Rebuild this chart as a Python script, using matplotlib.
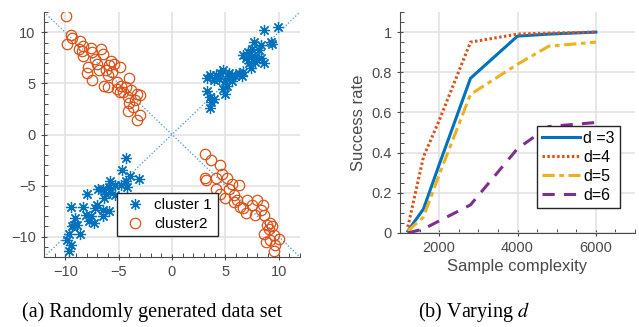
import numpy as np
import matplotlib
matplotlib.use("Agg")
import matplotlib.pyplot as plt
from matplotlib.ticker import MultipleLocator

plt.rcParams['font.family'] = ['Liberation Sans', 'DejaVu Sans']
plt.rcParams['mathtext.fontset'] = 'stix'

# ---- data (a): scatter clusters ----
c1_x = [9.9, 8.6, 9.3, 9.4, 7.7, 8.3, 8.2, 7.5, 7.1, 6.7, 6.9, 7.4, 7.8, 8.3, 8.6,
        7.8, 7.2, 7.4, 6.7, 6.3, 5.6, 5.3, 4.8, 4.5, 4.1, 3.6, 3.3, 3.9, 4.4, 5.0,
        5.6, 5.9, 5.2, 4.8, 5.0, 3.3, 3.6, 3.9, 3.7, 3.6, 5.3, 6.6,
        -4.3, -4.7, -3.9, -3.1, -4.3, -4.8, -4.2, -5.3, -5.9, -5.8, -6.9, -6.5, -6.2,
        -6.4, -8.0, -7.0, -8.3, -9.5, -7.2, -6.5, -5.9, -6.5, -8.1, -7.8, -7.3, -9.1,
        -8.9, -9.4, -8.6, -9.7, -9.8, -9.5, -9.7, -9.2, -7.6, -5.3, -5.8]
c1_y = [10.5, 10.2, 9.1, 8.9, 9.1, 8.8, 8.3, 8.4, 8.1, 7.8, 7.5, 7.6, 7.6, 7.5, 7.0,
        7.1, 7.0, 6.5, 6.1, 6.0, 5.8, 5.5, 6.3, 6.0, 5.8, 5.8, 5.5, 5.3, 5.4, 5.2,
        5.2, 5.7, 4.8, 4.5, 4.0, 4.3, 3.7, 3.5, 3.2, 2.6, 6.0, 5.7,
        -2.3, -3.5, -4.1, -4.4, -4.6, -4.9, -5.1, -4.9, -5.1, -4.6, -5.3, -5.3, -5.8,
        -6.2, -5.8, -6.9, -7.1, -7.1, -7.2, -7.4, -7.5, -8.0, -7.9, -8.5, -8.7, -8.2,
        -8.9, -9.0, -9.7, -9.7, -10.3, -10.8, -11.4, -8.9, -8.0, -5.9, -5.6]

c2_x = [-9.9, -9.5, -9.8, -8.6, -9.4, -8.4, -8.3, -7.6, -6.7, -6.5, -7.2, -7.9, -8.0,
        -7.5, -6.8, -6.2, -5.9, -5.4, -5.6, -6.0, -4.9, -5.7, -6.4, -6.0, -5.2, -4.9,
        -4.0, -4.3, -3.8, -3.3, -3.0, -4.1, -3.5, -4.0, -3.7, -4.1, -3.0, -3.3, -4.8,
        -5.2, -7.0, -7.5, -8.7, -8.3, -4.6,
        3.1, 3.7, 4.5, 3.1, 4.1, 4.7, 5.2, 5.6, 6.3, 4.1, 4.5, 5.3, 5.8, 5.0, 5.8,
        7.0, 8.0, 7.5, 6.7, 6.9, 8.3, 7.8, 8.6, 8.9, 9.4, 9.1, 8.6, 9.6, 9.2, 8.8,
        9.7, 9.6, 9.2, 8.5, 6.4, 6.1, 3.2, 10.0]
c2_y = [11.6, 9.7, 8.9, 9.2, 9.5, 8.2, 7.7, 8.5, 8.4, 7.9, 7.4, 6.6, 6.0,
        5.3, 6.3, 6.3, 6.8, 6.9, 6.1, 5.8, 6.6, 7.2, 4.8, 4.7, 4.5, 4.2,
        5.5, 4.7, 4.4, 4.0, 3.9, 3.7, 3.4, 3.1, 2.7, 2.3, 1.9, 1.4, 4.8,
        5.1, 6.9, 8.1, 8.4, 8.7, 4.2,
        -1.9, -2.5, -3.0, -4.3, -4.3, -3.9, -4.3, -4.8, -4.9, -5.3, -5.8, -5.3, -5.9,
        -6.2, -6.6, -6.4, -6.4, -6.9, -7.2, -7.7, -7.4, -7.9, -7.9, -8.9, -9.0, -9.3,
        -9.7, -9.8, -10.3, -10.5, -10.8, -11.4, -8.7, -6.9, -7.1, -6.4, -4.5, -10.2]

# ---- data (b): success rate vs sample complexity ----
samples = [1200, 1600, 2000, 2800, 4000, 4800, 6000]
rate_d3 = [0.01, 0.12, 0.34, 0.77, 0.98, 0.99, 1.00]
rate_d4 = [0.03, 0.38, 0.56, 0.95, 0.99, 0.995, 1.00]
rate_d5 = [0.01, 0.08, 0.29, 0.69, 0.84, 0.93, 0.95]
rate_d6 = [0.00, 0.02, 0.06, 0.14, 0.42, 0.53, 0.55]

tick_col = '#4a4a4a'
grid_col = '#e3e3e3'
blue, orange, yellow, purple = '#0072BD', '#D95319', '#EDB120', '#7E2F8E'

fig = plt.figure(figsize=(6.39, 3.27), dpi=100)


def style_axes(ax):
    for s in ['top', 'right']:
        ax.spines[s].set_visible(False)
    for s in ['left', 'bottom']:
        ax.spines[s].set_color(tick_col)
        ax.spines[s].set_linewidth(0.8)
    ax.tick_params(which='major', direction='inout', length=5, width=0.8,
                   colors=tick_col, labelsize=10.5, labelcolor=tick_col)
    ax.tick_params(which='minor', direction='in', length=3, width=0.7, colors=tick_col)
    ax.grid(True, which='major', color=grid_col, linewidth=1.2)
    ax.set_axisbelow(True)


# ---------------- (a) ----------------
ax1 = fig.add_axes([44 / 639, 1 - 257 / 327, 256 / 639, 245 / 327])
style_axes(ax1)
ax1.plot([-12, 12], [-12, 12], ls=':', color='#3f93d1', lw=0.9)
ax1.plot([-12, 12], [12, -12], ls=':', color='#3f93d1', lw=0.9)
ax1.plot(c1_x, c1_y, ls='none', marker=(8, 2, 0), ms=8, mew=0.9,
         color=blue, label='cluster 1')
ax1.plot(c2_x, c2_y, ls='none', marker='o', ms=7.5, mew=0.9,
         mfc='none', mec=orange, label='cluster2')
ax1.set_xlim(-12, 12)
ax1.set_ylim(-12, 12)
ax1.set_xticks([-10, -5, 0, 5, 10])
ax1.set_yticks([-10, -5, 0, 5, 10])
ax1.xaxis.set_minor_locator(MultipleLocator(1))
ax1.yaxis.set_minor_locator(MultipleLocator(1))
leg1 = ax1.legend(loc='upper left', bbox_to_anchor=(117 / 639, 1 - 193 / 327),
                  bbox_transform=fig.transFigure, fontsize=11, frameon=True,
                  fancybox=False, framealpha=1, edgecolor='#262626',
                  handletextpad=0.5, borderpad=0.35, labelspacing=0.3,
                  handlelength=1.6, borderaxespad=0)
leg1.get_frame().set_linewidth(1.0)

# ---------------- (b) ----------------
ax2 = fig.add_axes([400 / 639, 1 - 233 / 327, 235 / 639, 221 / 327])
style_axes(ax2)
ax2.plot(samples, rate_d3, color=blue, lw=2.2, ls='-', label='d =3')
ax2.plot(samples, rate_d4, color=orange, lw=2.2, ls=(0, (0.8, 0.8)), label='d=4')
ax2.plot(samples, rate_d5, color=yellow, lw=2.2, ls=(0, (4, 1.5, 1.5, 1.5)), label='d=5')
ax2.plot(samples, rate_d6, color=purple, lw=2.2, ls=(0, (4, 3)), label='d=6')
ax2.set_xlim(1000, 7000)
ax2.set_ylim(0, 1.1)
ax2.set_xticks([2000, 4000, 6000])
ax2.set_yticks([0, 0.2, 0.4, 0.6, 0.8, 1])
ax2.set_yticklabels(['0', '0.2', '0.4', '0.6', '0.8', '1'])
ax2.xaxis.set_minor_locator(MultipleLocator(500))
ax2.yaxis.set_minor_locator(MultipleLocator(0.05))
ax2.set_xlabel('Sample complexity', fontsize=12, color=tick_col, labelpad=3)
ax2.set_ylabel('Success rate', fontsize=12, color=tick_col, labelpad=4)
leg2 = ax2.legend(loc='upper left', bbox_to_anchor=(537 / 639, 1 - 126 / 327),
                  bbox_transform=fig.transFigure, fontsize=11.5, frameon=True,
                  fancybox=False, framealpha=1, edgecolor='#262626',
                  handletextpad=0.2, borderpad=0.3, labelspacing=0.25,
                  handlelength=2.4, borderaxespad=0)
leg2.get_frame().set_linewidth(1.0)

# captions
fig.text(152 / 639, 1 - 312 / 327, '(a) Randomly generated data set',
         family='Liberation Serif', fontsize=14.5, ha='center', va='center')
fig.text(474 / 639, 1 - 312 / 327, '(b) Varying $d$',
         family='Liberation Serif', fontsize=14.5, ha='center', va='center')

fig.savefig('out.png', dpi=100)
